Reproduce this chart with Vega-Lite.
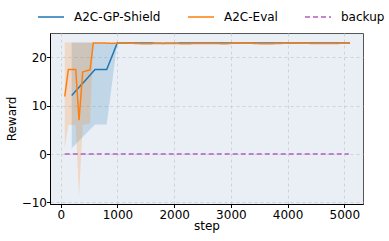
{
  "$schema": "https://vega.github.io/schema/vega-lite/v6.json",
  "width": 313,
  "height": 171,
  "autosize": "none",
  "padding": {"left": 50, "top": 33, "right": 26, "bottom": 37},
  "background": "white",
  "config": {
    "font": "DejaVu Sans",
    "view": {"fill": "#eaeff6", "stroke": "#555", "strokeWidth": 1},
    "axis": {
      "labelFont": "DejaVu Sans", "titleFont": "DejaVu Sans",
      "labelFontSize": 12, "titleFontSize": 12, "titleFontWeight": "normal",
      "labelColor": "black", "titleColor": "black",
      "domainColor": "black", "tickColor": "black", "tickSize": 3.5,
      "gridColor": "#c8ccd2", "gridDash": [3, 3], "gridWidth": 0.8
    },
    "legend": {
      "title": null, "orient": "none", "direction": "horizontal", "legendX": -13, "legendY": -30,
      "labelFontSize": 12, "labelFont": "DejaVu Sans", "labelColor": "black", "symbolSize": 676,
      "symbolStrokeWidth": 1.5, "labelOffset": 9, "columnPadding": 24, "symbolType": "stroke", "gridAlign": "none"
    }
  },
  "datasets": {
    "bands": [
      {"series": "A2C-GP-Shield", "step": 193, "lo": 1.2, "hi": 23.1},
      {"series": "A2C-GP-Shield", "step": 604, "lo": 6.1, "hi": 23.1},
      {"series": "A2C-GP-Shield", "step": 810, "lo": 6.1, "hi": 23.1},
      {"series": "A2C-GP-Shield", "step": 997, "lo": 23.0, "hi": 23.0},
      {"series": "A2C-Eval", "step": 70, "lo": 1.2, "hi": 23.1},
      {"series": "A2C-Eval", "step": 134, "lo": 6.0, "hi": 23.1},
      {"series": "A2C-Eval", "step": 264, "lo": 6.0, "hi": 23.1},
      {"series": "A2C-Eval", "step": 322, "lo": -8.8, "hi": 23.1},
      {"series": "A2C-Eval", "step": 387, "lo": 6.0, "hi": 23.1},
      {"series": "A2C-Eval", "step": 516, "lo": 6.3, "hi": 23.1},
      {"series": "A2C-Eval", "step": 574, "lo": 23.0, "hi": 23.0}
    ],
    "lines": [
      {"series": "A2C-GP-Shield", "step": 193, "reward": 12.1},
      {"series": "A2C-GP-Shield", "step": 604, "reward": 17.5},
      {"series": "A2C-GP-Shield", "step": 810, "reward": 17.5},
      {"series": "A2C-GP-Shield", "step": 997, "reward": 23.0},
      {"series": "A2C-GP-Shield", "step": 1500, "reward": 23.0},
      {"series": "A2C-GP-Shield", "step": 1800, "reward": 22.9},
      {"series": "A2C-GP-Shield", "step": 2300, "reward": 23.0},
      {"series": "A2C-GP-Shield", "step": 3000, "reward": 23.0},
      {"series": "A2C-GP-Shield", "step": 4000, "reward": 23.0},
      {"series": "A2C-GP-Shield", "step": 5100, "reward": 23.0},
      {"series": "A2C-Eval", "step": 70, "reward": 11.9},
      {"series": "A2C-Eval", "step": 134, "reward": 17.5},
      {"series": "A2C-Eval", "step": 264, "reward": 17.5},
      {"series": "A2C-Eval", "step": 322, "reward": 7.0},
      {"series": "A2C-Eval", "step": 387, "reward": 17.0},
      {"series": "A2C-Eval", "step": 516, "reward": 17.4},
      {"series": "A2C-Eval", "step": 574, "reward": 23.0},
      {"series": "A2C-Eval", "step": 700, "reward": 23.0},
      {"series": "A2C-Eval", "step": 900, "reward": 22.9},
      {"series": "A2C-Eval", "step": 1100, "reward": 23.0},
      {"series": "A2C-Eval", "step": 1300, "reward": 22.9},
      {"series": "A2C-Eval", "step": 1500, "reward": 22.8},
      {"series": "A2C-Eval", "step": 1700, "reward": 22.9},
      {"series": "A2C-Eval", "step": 2000, "reward": 22.9},
      {"series": "A2C-Eval", "step": 2200, "reward": 22.8},
      {"series": "A2C-Eval", "step": 2400, "reward": 22.9},
      {"series": "A2C-Eval", "step": 2700, "reward": 22.9},
      {"series": "A2C-Eval", "step": 2900, "reward": 22.8},
      {"series": "A2C-Eval", "step": 3100, "reward": 23.0},
      {"series": "A2C-Eval", "step": 3400, "reward": 22.9},
      {"series": "A2C-Eval", "step": 3600, "reward": 22.8},
      {"series": "A2C-Eval", "step": 3900, "reward": 22.9},
      {"series": "A2C-Eval", "step": 4100, "reward": 23.0},
      {"series": "A2C-Eval", "step": 4400, "reward": 22.9},
      {"series": "A2C-Eval", "step": 4600, "reward": 22.9},
      {"series": "A2C-Eval", "step": 4900, "reward": 22.9},
      {"series": "A2C-Eval", "step": 5100, "reward": 23.0},
      {"series": "backup", "step": 70, "reward": 0},
      {"series": "backup", "step": 5080, "reward": 0}
    ]
  },
  "layer": [
    {
      "data": {"name": "bands"},
      "mark": {"type": "area", "opacity": 0.2, "clip": true},
      "encoding": {
        "x": {"field": "step", "type": "quantitative"},
        "y": {"field": "lo", "type": "quantitative"},
        "y2": {"field": "hi"},
        "fill": {"field": "series", "type": "nominal", "legend": null,
          "scale": {"domain": ["A2C-GP-Shield", "A2C-Eval", "backup"], "range": ["#1f77b4", "#ff7f0e", "#b85cc0"]}},
        "detail": {"field": "series"}
      }
    },
    {
      "data": {"name": "lines"},
      "mark": {"type": "line", "strokeWidth": 1.5, "clip": true},
      "encoding": {
        "x": {"field": "step", "type": "quantitative", "title": "step",
          "scale": {"domain": [-190, 5330], "nice": false, "zero": false},
          "axis": {"values": [0, 1000, 2000, 3000, 4000, 5000], "format": "d", "titlePadding": 0, "labelPadding": 2}},
        "y": {"field": "reward", "type": "quantitative", "title": "Reward",
          "scale": {"domain": [-10.35, 25.05], "nice": false, "zero": false},
          "axis": {"values": [-10, 0, 10, 20], "format": "d", "titlePadding": 3, "labelPadding": 0}},
        "stroke": {"field": "series", "type": "nominal", "title": null,
          "scale": {"domain": ["A2C-GP-Shield", "A2C-Eval", "backup"], "range": ["#1f77b4", "#ff7f0e", "#b85cc0"]}},
        "strokeDash": {"field": "series", "type": "nominal", "title": null,
          "scale": {"domain": ["A2C-GP-Shield", "A2C-Eval", "backup"], "range": [[1, 0], [1, 0], [5, 3]]}}
      }
    }
  ],
  "resolve": {"scale": {"fill": "independent"}, "legend": {"fill": "independent"}}
}
